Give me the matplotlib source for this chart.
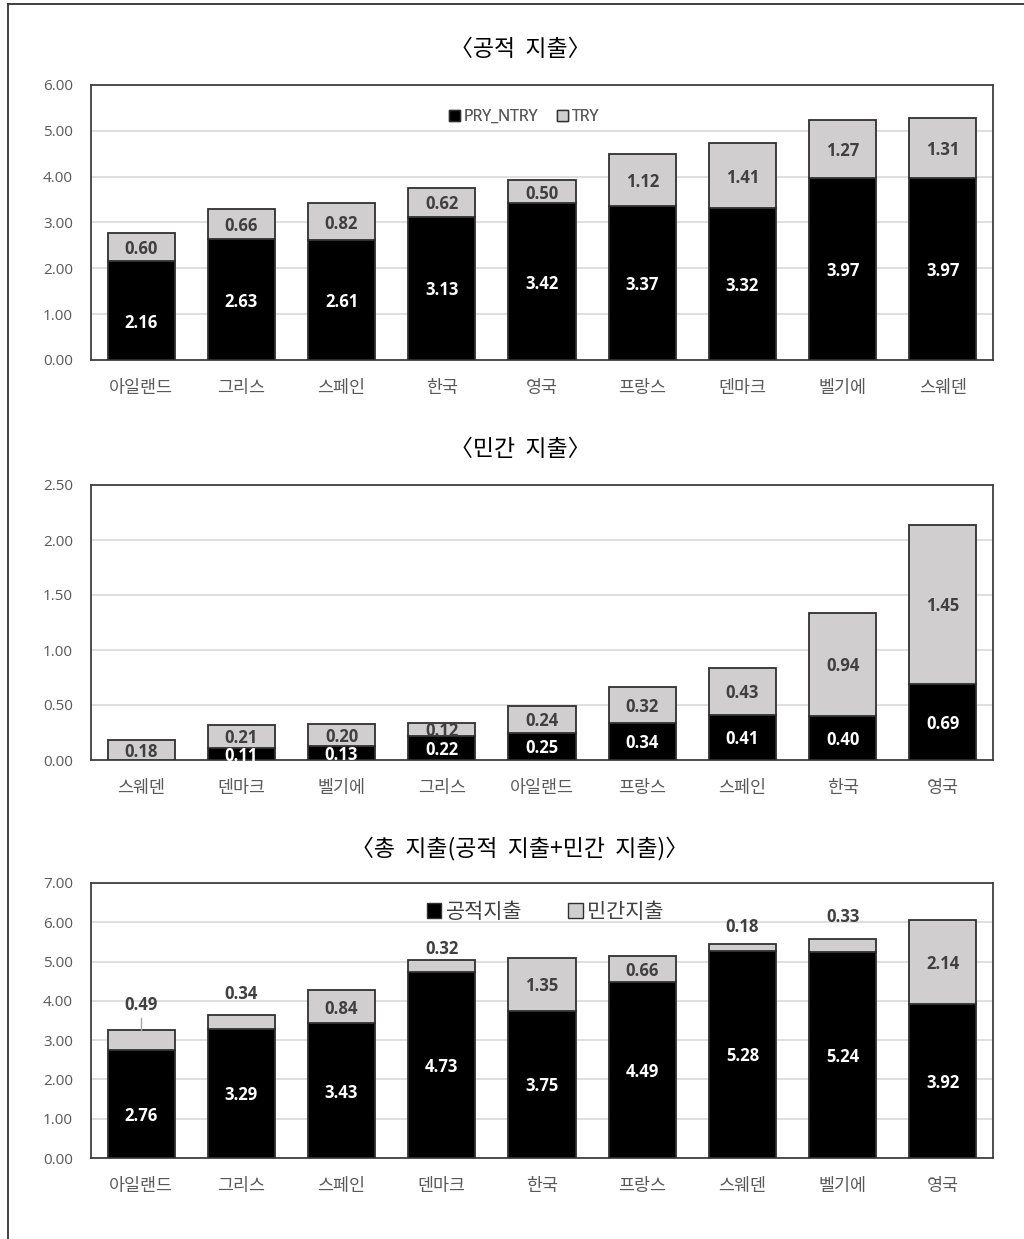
import matplotlib
matplotlib.use("Agg")
import matplotlib.pyplot as plt
from matplotlib.lines import Line2D
from matplotlib.patches import Patch

plt.rcParams['font.family'] = ['Open Sans', 'Noto Sans CJK KR', 'DejaVu Sans']
KFONT = ['Noto Sans CJK KR', 'DejaVu Sans']

# ---------------- data ----------------
cats1 = ['아일랜드', '그리스', '스페인', '한국', '영국', '프랑스', '덴마크', '벨기에', '스웨덴']
pub_pry = [2.16, 2.63, 2.61, 3.13, 3.42, 3.37, 3.32, 3.97, 3.97]
pub_try = [0.60, 0.66, 0.82, 0.62, 0.50, 1.12, 1.41, 1.27, 1.31]

cats2 = ['스웨덴', '덴마크', '벨기에', '그리스', '아일랜드', '프랑스', '스페인', '한국', '영국']
prv_pry = [0.00, 0.11, 0.13, 0.22, 0.25, 0.34, 0.41, 0.40, 0.69]
prv_try = [0.18, 0.21, 0.20, 0.12, 0.24, 0.32, 0.43, 0.94, 1.45]

cats3 = ['아일랜드', '그리스', '스페인', '덴마크', '한국', '프랑스', '스웨덴', '벨기에', '영국']
tot_pub = [2.76, 3.29, 3.43, 4.73, 3.75, 4.49, 5.28, 5.24, 3.92]
tot_prv = [0.49, 0.34, 0.84, 0.32, 1.35, 0.66, 0.18, 0.33, 2.14]

titles = ['〈공적  지출〉', '〈민간  지출〉', '〈총  지출(공적  지출+민간  지출)〉']
legend1 = ['PRY_NTRY', 'TRY']
legend3 = ['공적지출', '민간지출']
ylims = [6.0, 2.5, 7.0]
yticks = [[0, 1, 2, 3, 4, 5, 6], [0, 0.5, 1.0, 1.5, 2.0, 2.5], [0, 1, 2, 3, 4, 5, 6, 7]]

# ---------------- style ----------------
W, H = 1024, 1239
BLACK = '#000000'
GRAY = '#D0CECE'
EDGE = '#303030'
TICKC = '#595959'
GRID = '#D9D9D9'
LBL_DARK = '#404040'

fig = plt.figure(figsize=(W / 100, H / 100), dpi=100)

def fx(px):
    return px / W

def fy(py):
    return 1 - py / H

# outer frame (top & left visible)
fig.add_artist(Line2D([fx(7.5), 1.0], [fy(3.5), fy(3.5)], color='#333333', lw=1.3, transform=fig.transFigure))
fig.add_artist(Line2D([fx(7.5), fx(7.5)], [fy(3.5), 0.0], color='#333333', lw=1.3, transform=fig.transFigure))

ax_left, ax_right = 91, 993
panels = [(85, 360), (485, 760), (883, 1158)]
title_y = [50, 450, 848]

specs = [
    (cats1, pub_pry, pub_try, legend1),
    (cats2, prv_pry, prv_try, legend1),
    (cats3, tot_pub, tot_prv, legend3),
]

# per-panel label adjustments in pixels (style only)
low_shift = {0: {0: 11}, 2: {0: 10}}
above = {2: {0: 25, 1: 21, 3: 11, 6: 17, 7: 22}}
leader = {2: {0: 12}}

bw = 0.67
for k, (cats, lo, hi, leg) in enumerate(specs):
    top, bot = panels[k]
    ax = fig.add_axes([fx(ax_left), fy(bot), fx(ax_right) - fx(ax_left), (bot - top) / H])
    x = list(range(len(cats)))
    ymax = ylims[k]
    ppu = (bot - top) / ymax

    ax.bar(x, lo, bw, color=BLACK, edgecolor=EDGE, linewidth=1.3, zorder=3, label=leg[0])
    ax.bar(x, hi, bw, bottom=lo, color=GRAY, edgecolor=EDGE, linewidth=1.3, zorder=3, label=leg[1])

    ax.set_xlim(-0.5, len(cats) - 0.5)
    ax.set_ylim(0, ymax)
    ax.set_yticks(yticks[k])
    ax.set_yticklabels([f'{v:.2f}' for v in yticks[k]], fontsize=11)
    ax.set_xticks(x)
    ax.set_xticklabels(cats, family=KFONT, fontsize=12.5)
    ax.tick_params(axis='both', length=0, colors=TICKC)
    ax.tick_params(axis='y', pad=13)
    ax.tick_params(axis='x', pad=14)
    ax.yaxis.grid(True, color=GRID, lw=1.2, zorder=0)
    ax.set_axisbelow(True)
    for s in ax.spines.values():
        s.set_color('#404040')
        s.set_linewidth(1.3)

    for i in x:
        if lo[i] > 0:
            yc = lo[i] / 2 - low_shift.get(k, {}).get(i, 0) / ppu - 2 / ppu
            ax.text(i, yc, f'{lo[i]:.2f}', ha='center', va='center', color='white',
                    fontsize=12, fontweight='bold', zorder=5)
        if i in above.get(k, {}):
            ytop = lo[i] + hi[i]
            ax.text(i, ytop + above[k][i] / ppu, f'{hi[i]:.2f}', ha='center', va='center',
                    color=LBL_DARK, fontsize=12, fontweight='bold', zorder=5)
            if i in leader.get(k, {}):
                ax.plot([i, i], [ytop, ytop + leader[k][i] / ppu], color='#A6A6A6', lw=1, zorder=4)
        else:
            yc = lo[i] + hi[i] / 2 - 2 / ppu
            ax.text(i, yc, f'{hi[i]:.2f}', ha='center', va='center', color=LBL_DARK,
                    fontsize=12, fontweight='bold', zorder=5)

    handles = [Patch(facecolor=BLACK, edgecolor=EDGE, lw=1.0),
               Patch(facecolor=GRAY, edgecolor=EDGE, lw=1.0)]
    lx = 524 if k < 2 else 545
    ly = 117 - top if k < 2 else 912 - top
    ax.legend(handles, leg, loc='center',
              bbox_to_anchor=((lx - ax_left) / (ax_right - ax_left), 1 - ly / (bot - top)),
              ncol=2, frameon=False, handlelength=0.7, handleheight=0.7, handletextpad=0.2,
              columnspacing=1.2 if k < 2 else 2.2,
              prop={'family': KFONT if k == 2 else ['Open Sans'], 'size': 11.5 if k < 2 else 15},
              labelcolor=TICKC if k < 2 else '#404040')

    fig.text(fx(520), fy(title_y[k]), titles[k], ha='center', va='center', fontsize=16.5,
             color='black', family=KFONT)

fig.savefig('out.png', dpi=100)
